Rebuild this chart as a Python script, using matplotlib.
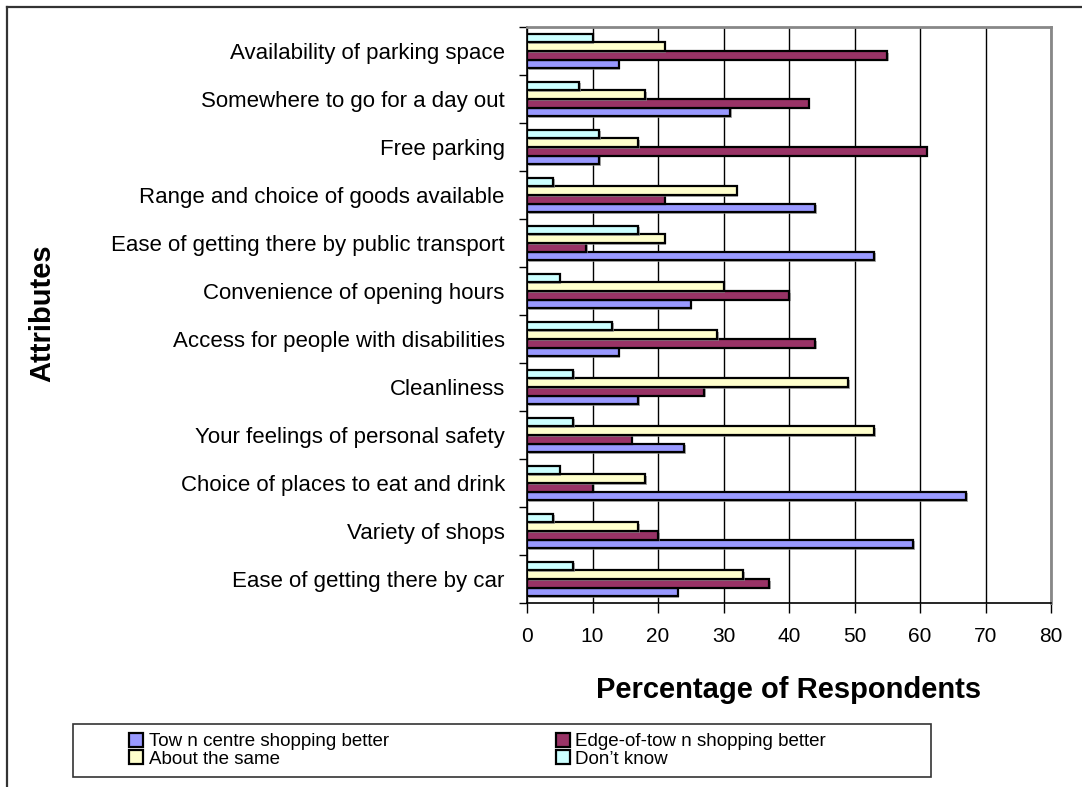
import numpy as np
import matplotlib.pyplot as plt
import matplotlib.patheffects as pe
from matplotlib.lines import Line2D
from matplotlib.patches import Rectangle

plt.rcParams['font.family'] = ['Liberation Sans', 'DejaVu Sans']

# attributes listed bottom to top, as drawn on the y axis
attributes = ['Ease of getting there by car',
              'Variety of shops',
              'Choice of places to eat and drink',
              'Your feelings of personal safety',
              'Cleanliness',
              'Access for people with disabilities',
              'Convenience of opening hours',
              'Ease of getting there by public transport',
              'Range and choice of goods available',
              'Free parking',
              'Somewhere to go for a day out',
              'Availability of parking space']

town_centre = [23, 59, 67, 24, 17, 14, 25, 53, 44, 11, 31, 14]
edge_of_town = [37, 20, 10, 16, 27, 44, 40, 9, 21, 61, 43, 55]
about_same = [33, 17, 18, 53, 49, 29, 30, 21, 32, 17, 18, 21]
dont_know = [7, 4, 5, 7, 7, 13, 5, 17, 4, 11, 8, 10]

series_labels = ['Tow n centre shopping better', 'Edge-of-tow n shopping better',
                 'About the same', 'Don\u2019t know']
colors = ['#9999FF', '#993366', '#FFFFCC', '#CCFFFF']

W, H = 1082, 787
fig = plt.figure(figsize=(W / 100, H / 100), dpi=100)
ax = fig.add_axes([527 / W, 1 - 603 / H, (1051 - 527) / W, (603 - 27) / H])

y = np.arange(len(attributes))
h = 0.18
offsets = [-1.5 * h, -0.5 * h, 0.5 * h, 1.5 * h]
shadow = [pe.SimplePatchShadow(offset=(1.2, -1.2), shadow_rgbFace='0.55', alpha=0.7), pe.Normal()]
handles = []
for vals, off, col, lab in zip([town_centre, edge_of_town, about_same, dont_know],
                               offsets, colors, series_labels):
    bars = ax.barh(y + off, vals, height=h, color=col, edgecolor='black',
                   linewidth=1.6, label=lab, zorder=3)
    for b in bars:
        b.set_path_effects(shadow)
    handles.append(bars)

ax.set_xlim(0, 80)
ax.set_ylim(-0.5, len(attributes) - 0.5)
ax.set_xticks(np.arange(0, 81, 10))
ax.xaxis.grid(True, color='black', linewidth=1.0, zorder=0)
ax.set_axisbelow(True)

ax.set_yticks(y)
ax.set_yticklabels(attributes, fontsize=16)
ax.set_yticks(np.arange(-0.5, len(attributes), 1), minor=True)
ax.tick_params(axis='y', which='major', length=0, pad=16)
ax.tick_params(axis='y', which='minor', length=6, width=1, color='black', direction='out')
ax.tick_params(axis='x', length=7, width=1, labelsize=15, pad=10)

for side in ['top', 'right']:
    ax.spines[side].set_color('#888888')
    ax.spines[side].set_linewidth(2)
for side in ['left', 'bottom']:
    ax.spines[side].set_color('black')
    ax.spines[side].set_linewidth(1.2)

ax.set_xlabel('Percentage of Respondents', fontsize=21, fontweight='bold', labelpad=22)
fig.text(42 / W, 1 - 313 / H, 'Attributes', rotation=90, fontsize=21,
         fontweight='bold', ha='center', va='center')

# legend: two rows, two columns, framed by a separate box
leg = fig.legend([handles[0], handles[2], handles[1], handles[3]],
                 [series_labels[0], series_labels[2], series_labels[1], series_labels[3]],
                 ncol=2, loc='upper left', bbox_to_anchor=(129 / W, 1 - 733 / H),
                 fontsize=13.5, frameon=False, handlelength=0.75, handleheight=0.75,
                 handletextpad=0.3, labelspacing=0.0, columnspacing=8.9,
                 borderpad=0, borderaxespad=0)
for p in leg.get_patches():
    p.set_path_effects([])
fig.add_artist(Rectangle((73 / W, 1 - 777 / H), (931 - 73) / W, 53 / H,
                         transform=fig.transFigure, fill=False,
                         edgecolor='#333333', linewidth=1.2))

# outer chart border
fig.add_artist(Line2D([7 / W, 7 / W], [0, 1 - 7 / H], color='#333333', linewidth=1.6))
fig.add_artist(Line2D([7 / W, 1], [1 - 7 / H, 1 - 7 / H], color='#333333', linewidth=1.6))

fig.savefig('out.png', dpi=100)
